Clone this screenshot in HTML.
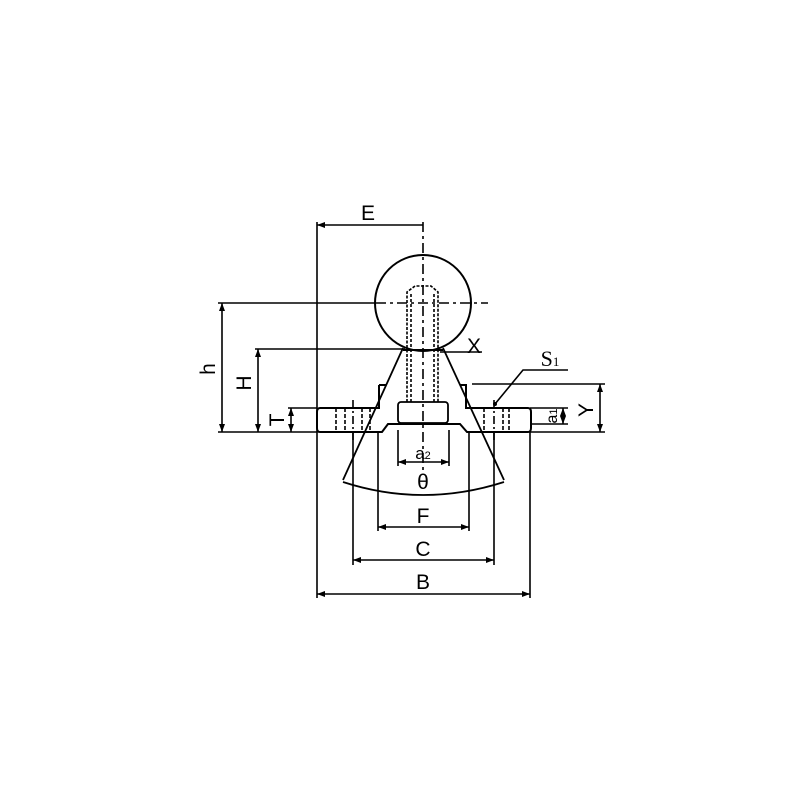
<!DOCTYPE html>
<html><head><style>body{margin:0;background:#fff}</style></head><body>
<svg width="800" height="800" viewBox="0 0 800 800" xmlns="http://www.w3.org/2000/svg" font-family="'Liberation Sans', sans-serif">
<defs>
<marker id="a" markerWidth="8" markerHeight="6" refX="8" refY="3" orient="auto-start-reverse" markerUnits="userSpaceOnUse"><path d="M0,0 L8,3 L0,6z" fill="#000"/></marker>
</defs>
<g stroke="#000" stroke-width="1.6" fill="none">
<line x1="317" y1="222" x2="317" y2="598"/>
<line x1="218" y1="303" x2="376" y2="303"/>
<line x1="376" y1="303" x2="488" y2="303" stroke-dasharray="10,4,3,4"/>
<line x1="255" y1="349" x2="405" y2="349"/>
<line x1="440" y1="352" x2="482" y2="352"/>
<line x1="288" y1="408" x2="317" y2="408"/>
<line x1="218" y1="432" x2="317" y2="432"/>
<line x1="423" y1="222" x2="423" y2="470" stroke-dasharray="10,4,3,4"/>
<line x1="472" y1="384" x2="605" y2="384"/>
<line x1="530" y1="408" x2="568" y2="408"/>
<line x1="530" y1="424" x2="568" y2="424"/>
<line x1="530" y1="432" x2="605" y2="432"/>
<line x1="353" y1="432" x2="353" y2="565"/>
<line x1="378" y1="432" x2="378" y2="531"/>
<line x1="469" y1="432" x2="469" y2="531"/>
<line x1="494" y1="432" x2="494" y2="565"/>
<line x1="530" y1="432" x2="530" y2="598"/>
<line x1="398" y1="430" x2="398" y2="466"/>
<line x1="449" y1="430" x2="449" y2="466"/>
<line x1="317" y1="225" x2="423" y2="225" marker-start="url(#a)"/>
<line x1="222" y1="303" x2="222" y2="432" marker-start="url(#a)" marker-end="url(#a)"/>
<line x1="258" y1="349" x2="258" y2="432" marker-start="url(#a)" marker-end="url(#a)"/>
<line x1="291" y1="408" x2="291" y2="432" marker-start="url(#a)" marker-end="url(#a)"/>
<line x1="600" y1="384" x2="600" y2="432" marker-start="url(#a)" marker-end="url(#a)"/>
<line x1="563" y1="408" x2="563" y2="424" marker-start="url(#a)" marker-end="url(#a)"/>
<line x1="317" y1="594" x2="530" y2="594" marker-start="url(#a)" marker-end="url(#a)"/>
<line x1="353" y1="560" x2="494" y2="560" marker-start="url(#a)" marker-end="url(#a)"/>
<line x1="378" y1="527" x2="469" y2="527" marker-start="url(#a)" marker-end="url(#a)"/>
<line x1="398" y1="462" x2="449" y2="462" marker-start="url(#a)" marker-end="url(#a)"/>
<circle cx="423" cy="303" r="48" stroke-width="2"/>
<path d="M379,385 H386 M460,385 H466 V408 H528 Q531,408 531,412 V428 Q531,432 528,432 H467 L460,424 H388 L382,432 H320 Q317,432 317,428 V412 Q317,408 320,408 H379 V385" stroke-width="2"/>
<path d="M407,402 V292 L415,286 H431 L438,292 V402" stroke-dasharray="3,1.5"/>
<path d="M411,402 V292 M434,402 V292" stroke-dasharray="3,2"/>
<rect x="398" y="402" width="50" height="21" rx="3" stroke-width="1.8"/>
<path d="M403,350 H443" stroke-width="2"/>
<g stroke-dasharray="4,2">
<line x1="336" y1="408" x2="336" y2="432"/><line x1="345" y1="408" x2="345" y2="432"/>
<line x1="362" y1="408" x2="362" y2="432"/><line x1="370" y1="408" x2="370" y2="432"/>
<line x1="484" y1="408" x2="484" y2="432"/><line x1="503" y1="408" x2="503" y2="432"/>
<line x1="509" y1="408" x2="509" y2="432"/>
</g>
<line x1="353" y1="400" x2="353" y2="440" stroke-dasharray="8,3,2,3"/>
<line x1="494" y1="400" x2="494" y2="440" stroke-dasharray="8,3,2,3"/>
<line x1="403" y1="348" x2="343" y2="480" stroke-width="1.8"/>
<line x1="443" y1="348" x2="504" y2="480" stroke-width="1.8"/>
<path d="M343,482 Q423,508 504,482" stroke-width="1.8"/>
<polyline points="495,404 523,370 568,370"/>
</g>
<circle cx="495" cy="404" r="2" fill="#000"/>
<g font-size="21" fill="#000" text-anchor="middle">
<text x="368" y="220">E</text>
<text x="474" y="353">X</text>
<text x="423" y="489">θ</text>
<text x="423" y="523">F</text>
<text x="423" y="556">C</text>
<text x="423" y="589">B</text>
<text x="423" y="459" font-size="17">a<tspan font-size="11">2</tspan></text>
<text transform="translate(215,369) rotate(-90)">h</text>
<text transform="translate(251,383) rotate(-90)">H</text>
<text transform="translate(284,420) rotate(-90)">T</text>
<text transform="translate(593,410) rotate(-90)">Y</text>
<text transform="translate(557,416) rotate(-90)" font-size="16">a<tspan font-size="11">1</tspan></text>
<text x="550" y="366" font-family="'Liberation Serif', serif" font-size="22">S<tspan font-size="13">1</tspan></text>
</g>
</svg>
</body></html>
